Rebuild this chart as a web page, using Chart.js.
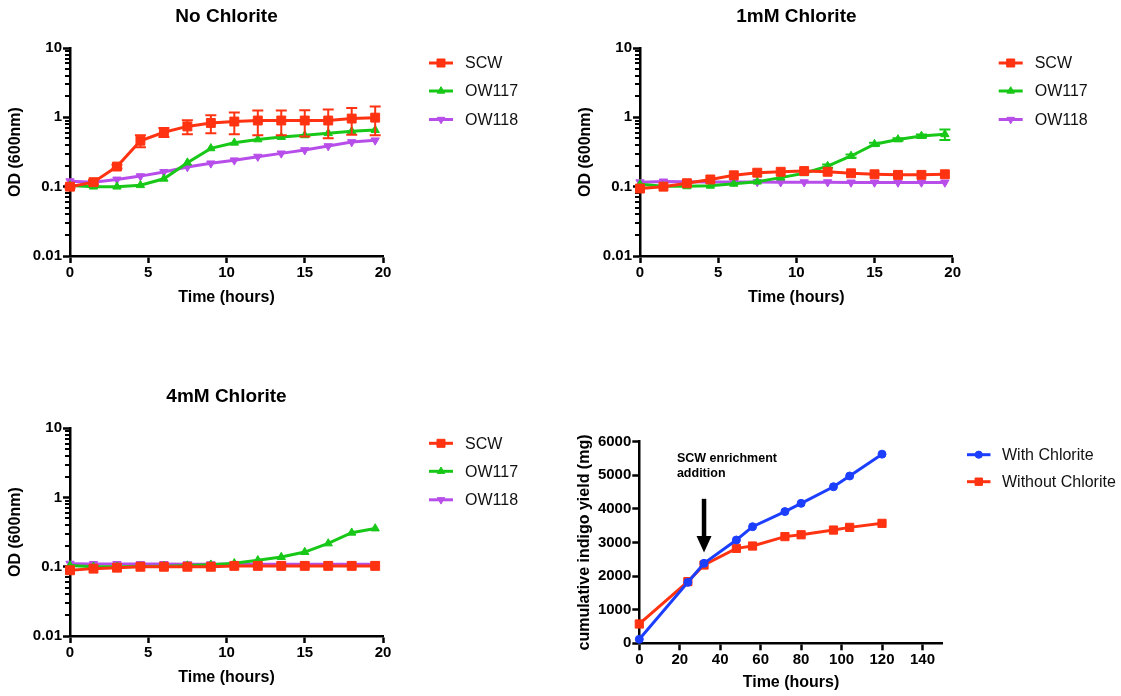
<!DOCTYPE html>
<html>
<head>
<meta charset="utf-8">
<title>Growth and indigo yield</title>
<script src="https://cdn.jsdelivr.net/npm/chart.js@4.4.1/dist/chart.umd.min.js"></script>
<style>
  html, body { margin: 0; padding: 0; background: #fff; }
  body { width: 1121px; height: 696px; position: relative; overflow: hidden; }
  canvas { position: absolute; }
</style>
</head>
<body>
<canvas id="noChlorite" width="560" height="340" style="left:0;top:0"></canvas>
<canvas id="chlorite1mM" width="551" height="340" style="left:570px;top:0"></canvas>
<canvas id="chlorite4mM" width="560" height="316" style="left:0;top:380px"></canvas>
<canvas id="indigo" width="561" height="316" style="left:560px;top:380px"></canvas>
<script>
// ---------- data ----------
// sampling times (hours) of the OD600 growth curves
const hours = [0, 1.5, 3, 4.5, 6, 7.5, 9, 10.5, 12, 13.5, 15, 16.5, 18, 19.5];

// no chlorite
const scwNone    = [0.100, 0.116, 0.195, 0.46, 0.61, 0.74, 0.83, 0.87, 0.90, 0.90, 0.90, 0.90, 0.96, 0.99];
const scwNoneSd  = [0.005, 0.008, 0.012, 0.09, 0.09, 0.17, 0.24, 0.30, 0.35, 0.35, 0.37, 0.40, 0.40, 0.44];
const ow117None  = [0.104, 0.100, 0.100, 0.105, 0.130, 0.222, 0.357, 0.43, 0.48, 0.52, 0.55, 0.59, 0.63, 0.656];
const ow118None  = [0.120, 0.116, 0.127, 0.142, 0.163, 0.192, 0.217, 0.240, 0.271, 0.302, 0.337, 0.385, 0.440, 0.466];

// 1 mM chlorite
const scw1mM     = [0.094, 0.100, 0.112, 0.127, 0.146, 0.159, 0.164, 0.168, 0.164, 0.156, 0.151, 0.148, 0.148, 0.151];
const ow117_1mM  = [0.108, 0.101, 0.101, 0.103, 0.110, 0.118, 0.135, 0.156, 0.198, 0.277, 0.41, 0.48, 0.537, 0.57];
const ow117_1mMSd= [0, 0, 0, 0, 0, 0, 0, 0, 0.01, 0.015, 0.02, 0.02, 0.03, 0.10];
const ow118_1mM  = [0.116, 0.119, 0.118, 0.117, 0.117, 0.117, 0.116, 0.116, 0.116, 0.115, 0.115, 0.115, 0.115, 0.115];

// 4 mM chlorite
const scw4mM     = [0.089, 0.094, 0.097, 0.100, 0.100, 0.100, 0.100, 0.103, 0.103, 0.103, 0.103, 0.103, 0.103, 0.103];
const ow117_4mM  = [0.104, 0.100, 0.100, 0.101, 0.102, 0.104, 0.107, 0.112, 0.124, 0.138, 0.163, 0.217, 0.31, 0.357];
const ow118_4mM  = [0.111, 0.110, 0.110, 0.110, 0.110, 0.109, 0.109, 0.109, 0.109, 0.109, 0.109, 0.109, 0.109, 0.109];

// cumulative indigo yield (mg) of the fed reactor
const feedHours      = [0, 24, 32, 48, 56, 72, 80, 96, 104, 120];
const indigoWith     = [120, 1815, 2380, 3075, 3470, 3920, 4165, 4660, 4980, 5630];
const indigoWithout  = [575, 1835, 2330, 2825, 2895, 3175, 3230, 3370, 3450, 3570];

// time at which the SCW enrichment was added
const additionHour = 32;
const arrowFrom = 4300;
const arrowTo = 2700;

// axis ticks
const odMajorTicks = [0.01, 0.1, 1, 10];
const odTickLabels = ['0.01', '0.1', '1', '10'];
const odMinorTicks = [];
[0.01, 0.1, 1].forEach(d => { for (let m = 2; m <= 9; m++) odMinorTicks.push(+(m * d).toPrecision(2)); });
const timeTicks = [0, 5, 10, 15, 20];
const feedTimeTicks = [0, 20, 40, 60, 80, 100, 120, 140];
const indigoTicks = [0, 1000, 2000, 3000, 4000, 5000, 6000];

// ---------- styling ----------
const FONT = '"Liberation Sans", Arial, Helvetica, sans-serif';
Chart.defaults.font.family = FONT;
Chart.defaults.color = '#000';

const RED = '#FF3311';
const GREEN = '#18C818';
const PURPLE = '#B84EEA';
const BLUE = '#1B3EFF';

const STYLE = {
  SCW:   { color: RED,    pointStyle: 'rect',     radius: 6.3, rotation: 0 },
  OW117: { color: GREEN,  pointStyle: 'triangle', radius: 4.8, rotation: 0 },
  OW118: { color: PURPLE, pointStyle: 'triangle', radius: 4.8, rotation: 180 }
};

function growthSeries(label, values, sd) {
  const s = STYLE[label];
  return {
    label,
    data: hours.map((h, i) => ({ x: h, y: values[i] })),
    errors: sd || null,
    borderColor: s.color,
    backgroundColor: s.color,
    borderWidth: 3,
    pointStyle: s.pointStyle,
    pointRadius: s.radius,
    pointHoverRadius: s.radius,
    pointRotation: s.rotation,
    pointBorderWidth: 1,
    pointBackgroundColor: s.color,
    pointBorderColor: s.color,
    tension: 0,
    clip: false
  };
}

function drawMarker(ctx, style, x, y, r, rot, color) {
  ctx.save();
  ctx.fillStyle = color;
  ctx.strokeStyle = color;
  ctx.lineWidth = 1;
  ctx.beginPath();
  if (style === 'rect') {
    const s = Math.SQRT1_2 * r;
    ctx.rect(x - s, y - s, 2 * s, 2 * s);
  } else if (style === 'circle') {
    ctx.arc(x, y, r, 0, Math.PI * 2);
  } else {
    let a = (rot || 0) * Math.PI / 180;
    ctx.moveTo(x + Math.sin(a) * r, y - Math.cos(a) * r);
    a += 2 * Math.PI / 3;
    ctx.lineTo(x + Math.sin(a) * r, y - Math.cos(a) * r);
    a += 2 * Math.PI / 3;
    ctx.lineTo(x + Math.sin(a) * r, y - Math.cos(a) * r);
    ctx.closePath();
  }
  ctx.fill();
  ctx.stroke();
  ctx.restore();
}

// ---------- plugins ----------
const panelTitle = {
  id: 'panelTitle',
  afterDraw(chart, args, o) {
    const { ctx, chartArea: ca } = chart;
    ctx.save();
    ctx.font = `bold 19px ${FONT}`;
    ctx.fillStyle = '#000';
    ctx.textAlign = 'center';
    ctx.textBaseline = 'middle';
    ctx.fillText(o.text, (ca.left + ca.right) / 2, o.y);
    ctx.restore();
  }
};

const seriesKey = {
  id: 'seriesKey',
  afterDraw(chart, args, o) {
    const { ctx, chartArea: ca } = chart;
    chart.data.datasets.forEach((ds, i) => {
      const y = ca.top + o.rows[i];
      const x0 = ca.right + o.lineStart;
      const x1 = x0 + o.lineLength;
      ctx.save();
      ctx.strokeStyle = ds.borderColor;
      ctx.lineWidth = 3;
      ctx.beginPath();
      ctx.moveTo(x0, y);
      ctx.lineTo(x1, y);
      ctx.stroke();
      drawMarker(ctx, ds.pointStyle, (x0 + x1) / 2, y, ds.pointRadius * 0.9, ds.pointRotation, ds.borderColor);
      ctx.font = `16px ${FONT}`;
      ctx.fillStyle = '#111';
      ctx.textAlign = 'left';
      ctx.textBaseline = 'middle';
      ctx.fillText(ds.label, x1 + o.textGap, y + 1);
      ctx.restore();
    });
  }
};

const minorTicks = {
  id: 'minorTicks',
  beforeDatasetsDraw(chart, args, o) {
    if (!o.values) return;
    const { ctx } = chart;
    const ys = chart.scales.y;
    const axisX = chart.chartArea.left;
    ctx.save();
    ctx.strokeStyle = '#000';
    ctx.lineWidth = 2;
    o.values.forEach(v => {
      const y = Math.round(ys.getPixelForValue(v));
      ctx.beginPath();
      ctx.moveTo(axisX - o.length, y);
      ctx.lineTo(axisX, y);
      ctx.stroke();
    });
    ctx.restore();
  }
};

const errorBars = {
  id: 'errorBars',
  afterDatasetDraw(chart, args) {
    const ds = chart.data.datasets[args.index];
    if (!ds.errors) return;
    const { ctx } = chart;
    const ys = chart.scales.y;
    ctx.save();
    ctx.strokeStyle = ds.borderColor;
    ctx.lineWidth = 2;
    args.meta.data.forEach((pt, i) => {
      const err = ds.errors[i];
      if (!err) return;
      const v = ds.data[i].y;
      const yHi = ys.getPixelForValue(v + err);
      const yLo = ys.getPixelForValue(Math.max(v - err, 0.0101));
      ctx.beginPath();
      ctx.moveTo(pt.x, yHi);
      ctx.lineTo(pt.x, yLo);
      ctx.moveTo(pt.x - 5.5, yHi);
      ctx.lineTo(pt.x + 5.5, yHi);
      ctx.moveTo(pt.x - 5.5, yLo);
      ctx.lineTo(pt.x + 5.5, yLo);
      ctx.stroke();
    });
    ctx.restore();
  }
};

const additionArrow = {
  id: 'additionArrow',
  afterDatasetsDraw(chart, args, o) {
    const { ctx } = chart;
    const xs = chart.scales.x, ys = chart.scales.y;
    const x = xs.getPixelForValue(o.hour);
    const yTop = ys.getPixelForValue(o.from);
    const yTip = ys.getPixelForValue(o.to);
    ctx.save();
    ctx.fillStyle = '#000';
    ctx.strokeStyle = '#000';
    ctx.lineWidth = 4.5;
    ctx.beginPath();
    ctx.moveTo(x, yTop);
    ctx.lineTo(x, yTip - 14);
    ctx.stroke();
    ctx.beginPath();
    ctx.moveTo(x - 7.5, yTip - 16.5);
    ctx.lineTo(x + 7.5, yTip - 16.5);
    ctx.lineTo(x, yTip);
    ctx.closePath();
    ctx.fill();
    ctx.font = `bold 12.5px ${FONT}`;
    ctx.textAlign = 'left';
    ctx.textBaseline = 'middle';
    const tx = xs.getPixelForValue(o.textHour);
    const ty = ys.getPixelForValue(o.textValue);
    o.lines.forEach((t, i) => ctx.fillText(t, tx, ty + i * 15));
    ctx.restore();
  }
};

// ---------- axes ----------
const tickFont = { size: 15, weight: 'bold' };
const titleFont = { size: 16, weight: 'bold' };

function xAxis(min, max, values, height) {
  return {
    type: 'linear',
    min, max,
    afterBuildTicks: s => { s.ticks = values.map(v => ({ value: v })); },
    afterFit: s => { s.height = height; },
    ticks: { autoSkip: false, maxRotation: 0, color: '#000', font: tickFont, padding: 1, callback: v => String(v) },
    grid: { display: true, drawOnChartArea: false, drawTicks: true, tickLength: 7, tickWidth: 2.5, tickColor: '#000' },
    border: { display: true, color: '#000', width: 2.5 },
    title: { display: true, text: 'Time (hours)', color: '#000', font: titleFont, padding: { top: 0, bottom: 3 } }
  };
}

function odAxis(width, titleOffset) {
  return {
    type: 'logarithmic',
    min: 0.01, max: 10,
    afterBuildTicks: s => { s.ticks = odMajorTicks.map(v => ({ value: v, major: true })); },
    afterFit: s => { s.width = width; },
    ticks: {
      autoSkip: false, color: '#000', font: tickFont, padding: 1,
      callback: v => {
        const k = odMajorTicks.findIndex(m => Math.abs(m - v) / m < 1e-6);
        return k >= 0 ? odTickLabels[k] : '';
      }
    },
    grid: { display: true, drawOnChartArea: false, drawTicks: true, tickLength: 7, tickWidth: 2.5, tickColor: '#000' },
    border: { display: true, color: '#000', width: 2.5 },
    title: { display: true, text: 'OD (600nm)', color: '#000', font: titleFont, padding: { top: titleOffset, bottom: 0 } }
  };
}

const growthKey = { rows: [15, 43, 71.5], lineStart: 46, lineLength: 24, textGap: 12 };

function growthChart(id, title, datasets, padding) {
  return new Chart(document.getElementById(id), {
    type: 'line',
    data: { datasets },
    options: {
      responsive: false,
      animation: false,
      events: [],
      layout: { padding },
      plugins: {
        legend: { display: false },
        tooltip: { enabled: false },
        panelTitle: { text: title, y: 17 },
        seriesKey: growthKey,
        minorTicks: { values: odMinorTicks, length: 5 }
      },
      scales: {
        x: xAxis(0, 20, timeTicks, 54),
        y: odAxis(70, 6.4)
      }
    },
    plugins: [panelTitle, seriesKey, minorTicks, errorBars]
  });
}

// ---------- charts ----------
growthChart('noChlorite', 'No Chlorite', [
  growthSeries('SCW', scwNone, scwNoneSd),
  growthSeries('OW117', ow117None),
  growthSeries('OW118', ow118None)
], { left: 0, top: 48, right: 177, bottom: 30 });

growthChart('chlorite1mM', '1mM Chlorite', [
  growthSeries('SCW', scw1mM),
  growthSeries('OW117', ow117_1mM, ow117_1mMSd),
  growthSeries('OW118', ow118_1mM)
], { left: 0, top: 48, right: 168.3, bottom: 30 });

growthChart('chlorite4mM', '4mM Chlorite', [
  growthSeries('SCW', scw4mM),
  growthSeries('OW117', ow117_4mM),
  growthSeries('OW118', ow118_4mM)
], { left: 0, top: 48.3, right: 177, bottom: 6 });

function feedSeries(label, values, color, style, radius) {
  return {
    label,
    data: feedHours.map((h, i) => ({ x: h, y: values[i] })),
    borderColor: color,
    backgroundColor: color,
    borderWidth: 3,
    pointStyle: style,
    pointRadius: radius,
    pointHoverRadius: radius,
    pointRotation: 0,
    pointBorderWidth: 1,
    pointBackgroundColor: color,
    pointBorderColor: color,
    tension: 0,
    clip: false
  };
}

new Chart(document.getElementById('indigo'), {
  type: 'line',
  data: {
    datasets: [
      feedSeries('With Chlorite', indigoWith, BLUE, 'circle', 4),
      feedSeries('Without Chlorite', indigoWithout, RED, 'rect', 5.8)
    ]
  },
  options: {
    responsive: false,
    animation: false,
    events: [],
    layout: { padding: { left: 0, top: 61.7, right: 178.3, bottom: 0.7 } },
    plugins: {
      legend: { display: false },
      tooltip: { enabled: false },
      seriesKey: { rows: [13, 40], lineStart: 24.3, lineLength: 23.5, textGap: 11.5 },
      additionArrow: {
        hour: additionHour, from: arrowFrom, to: arrowTo,
        textHour: 18.6, textValue: 5500,
        lines: ['SCW enrichment', 'addition']
      }
    },
    scales: {
      x: xAxis(0, 150, feedTimeTicks, 52),
      y: {
        type: 'linear',
        min: 0, max: 6000,
        afterBuildTicks: s => { s.ticks = indigoTicks.map(v => ({ value: v })); },
        afterFit: s => { s.width = 79.3; },
        ticks: { autoSkip: false, color: '#000', font: tickFont, padding: 1, callback: v => String(v) },
        grid: { display: true, drawOnChartArea: false, drawTicks: true, tickLength: 7, tickWidth: 2.5, tickColor: '#000' },
        border: { display: true, color: '#000', width: 2.5 },
        title: { display: true, text: 'cumulative indigo yield (mg)', color: '#000', font: titleFont, padding: { top: 15.4, bottom: 0 } }
      }
    }
  },
  plugins: [seriesKey, additionArrow]
});
</script>
</body>
</html>
